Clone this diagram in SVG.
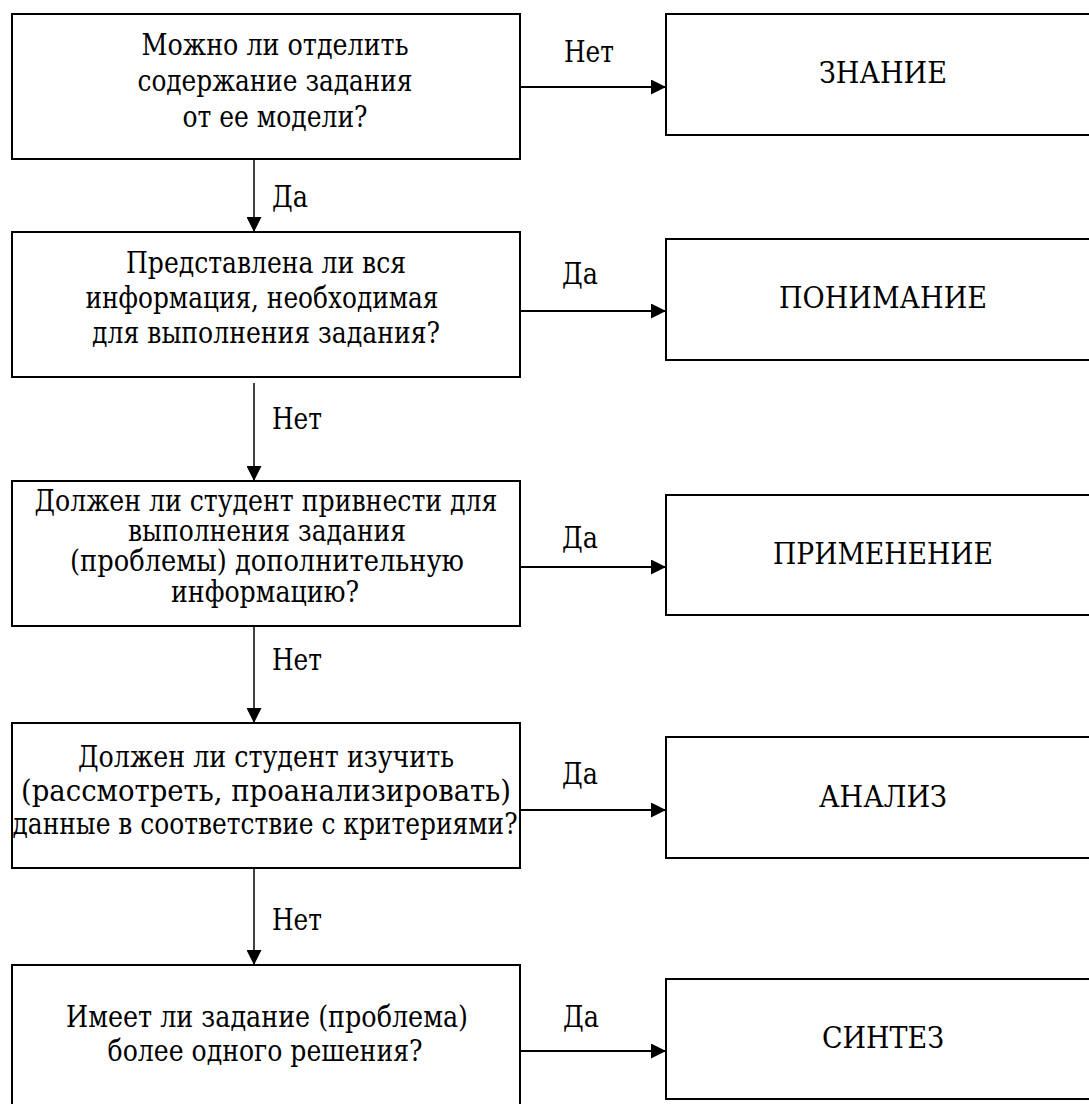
<svg xmlns="http://www.w3.org/2000/svg" width="1089" height="1104" viewBox="0 0 1089 1104">
<style>
.box{fill:#fff;stroke:#000;stroke-width:2}
text{font-family:'DejaVu Serif','Liberation Serif','Times New Roman',serif;font-size:30px;fill:#000}
.c{text-anchor:middle}
.h{stroke:#000;stroke-width:2;fill:none}
.v{stroke:#000;stroke-width:1.5;fill:none}
</style>
<defs>
<marker id="ah" viewBox="0 0 15 15" markerWidth="15" markerHeight="15" refX="15" refY="7.5" orient="auto" markerUnits="userSpaceOnUse">
<path d="M0,0 L15,7.5 L0,15 z" fill="#000"/>
</marker>
</defs>
<rect width="1089" height="1104" fill="#fff"/>
<g id="connectors">
<line class="h" x1="521" y1="87" x2="666" y2="87" marker-end="url(#ah)"/>
<line class="h" x1="521" y1="311" x2="666" y2="311" marker-end="url(#ah)"/>
<line class="h" x1="521" y1="567" x2="666" y2="567" marker-end="url(#ah)"/>
<line class="h" x1="521" y1="810" x2="666" y2="810" marker-end="url(#ah)"/>
<line class="h" x1="521" y1="1051" x2="666" y2="1051" marker-end="url(#ah)"/>
<line class="v" x1="254" y1="159" x2="254" y2="232" marker-end="url(#ah)"/>
<line class="v" x1="254" y1="383" x2="254" y2="481" marker-end="url(#ah)"/>
<line class="v" x1="254" y1="626" x2="254" y2="723" marker-end="url(#ah)"/>
<line class="v" x1="254" y1="868" x2="254" y2="965" marker-end="url(#ah)"/>
<text class="c" x="589" y="62" textLength="50" lengthAdjust="spacingAndGlyphs">Нет</text>
<text class="c" x="580" y="284" textLength="36" lengthAdjust="spacingAndGlyphs">Да</text>
<text class="c" x="580" y="548" textLength="36" lengthAdjust="spacingAndGlyphs">Да</text>
<text class="c" x="580" y="784" textLength="36" lengthAdjust="spacingAndGlyphs">Да</text>
<text class="c" x="581" y="1027" textLength="36" lengthAdjust="spacingAndGlyphs">Да</text>
<text x="272" y="207" textLength="36" lengthAdjust="spacingAndGlyphs">Да</text>
<text x="272" y="429" textLength="50" lengthAdjust="spacingAndGlyphs">Нет</text>
<text x="272" y="670" textLength="50" lengthAdjust="spacingAndGlyphs">Нет</text>
<text x="272" y="930" textLength="50" lengthAdjust="spacingAndGlyphs">Нет</text>
</g>
<g id="q1">
<rect class="box" x="12" y="14" width="508" height="145"/>
<text class="c" x="275" y="55" textLength="267" lengthAdjust="spacingAndGlyphs">Можно ли отделить</text>
<text class="c" x="275" y="91" textLength="275" lengthAdjust="spacingAndGlyphs">содержание задания</text>
<text class="c" x="275" y="127" textLength="185" lengthAdjust="spacingAndGlyphs">от ее модели?</text>
</g>
<g id="q2">
<rect class="box" x="12" y="232" width="508" height="145"/>
<text class="c" x="266" y="273" textLength="280" lengthAdjust="spacingAndGlyphs">Представлена ли вся</text>
<text class="c" x="262" y="308" textLength="353" lengthAdjust="spacingAndGlyphs">информация, необходимая</text>
<text class="c" x="266" y="343" textLength="348" lengthAdjust="spacingAndGlyphs">для выполнения задания?</text>
</g>
<g id="q3">
<rect class="box" x="12" y="481" width="508" height="145"/>
<text class="c" x="266" y="511" textLength="463" lengthAdjust="spacingAndGlyphs">Должен ли студент привнести для</text>
<text class="c" x="267" y="541" textLength="278" lengthAdjust="spacingAndGlyphs">выполнения задания</text>
<text class="c" x="267" y="571" textLength="394" lengthAdjust="spacingAndGlyphs">(проблемы) дополнительную</text>
<text class="c" x="265" y="602" textLength="188" lengthAdjust="spacingAndGlyphs">информацию?</text>
</g>
<g id="q4">
<rect class="box" x="12" y="723" width="508" height="145"/>
<text class="c" x="266" y="767" textLength="376" lengthAdjust="spacingAndGlyphs">Должен ли студент изучить</text>
<text class="c" x="266" y="801" textLength="490" lengthAdjust="spacingAndGlyphs">(рассмотреть, проанализировать)</text>
<text class="c" x="265" y="834" textLength="505" lengthAdjust="spacingAndGlyphs">данные в соответствие с критериями?</text>
</g>
<g id="q5">
<rect class="box" x="12" y="965" width="508" height="150"/>
<text class="c" x="267" y="1027" textLength="402" lengthAdjust="spacingAndGlyphs">Имеет ли задание (проблема)</text>
<text class="c" x="265" y="1061" textLength="315" lengthAdjust="spacingAndGlyphs">более одного решения?</text>
</g>
<g id="r1">
<rect class="box" x="666" y="14" width="434" height="121"/>
<text class="c" x="883" y="83" textLength="128" lengthAdjust="spacingAndGlyphs">ЗНАНИЕ</text>
</g>
<g id="r2">
<rect class="box" x="666" y="239" width="434" height="121"/>
<text class="c" x="883" y="308" textLength="208" lengthAdjust="spacingAndGlyphs">ПОНИМАНИЕ</text>
</g>
<g id="r3">
<rect class="box" x="666" y="495" width="434" height="120"/>
<text class="c" x="883" y="564" textLength="220" lengthAdjust="spacingAndGlyphs">ПРИМЕНЕНИЕ</text>
</g>
<g id="r4">
<rect class="box" x="666" y="737" width="434" height="121"/>
<text class="c" x="883" y="807" textLength="128" lengthAdjust="spacingAndGlyphs">АНАЛИЗ</text>
</g>
<g id="r5">
<rect class="box" x="666" y="979" width="434" height="120"/>
<text class="c" x="883" y="1048" textLength="122" lengthAdjust="spacingAndGlyphs">СИНТЕЗ</text>
</g>
</svg>
